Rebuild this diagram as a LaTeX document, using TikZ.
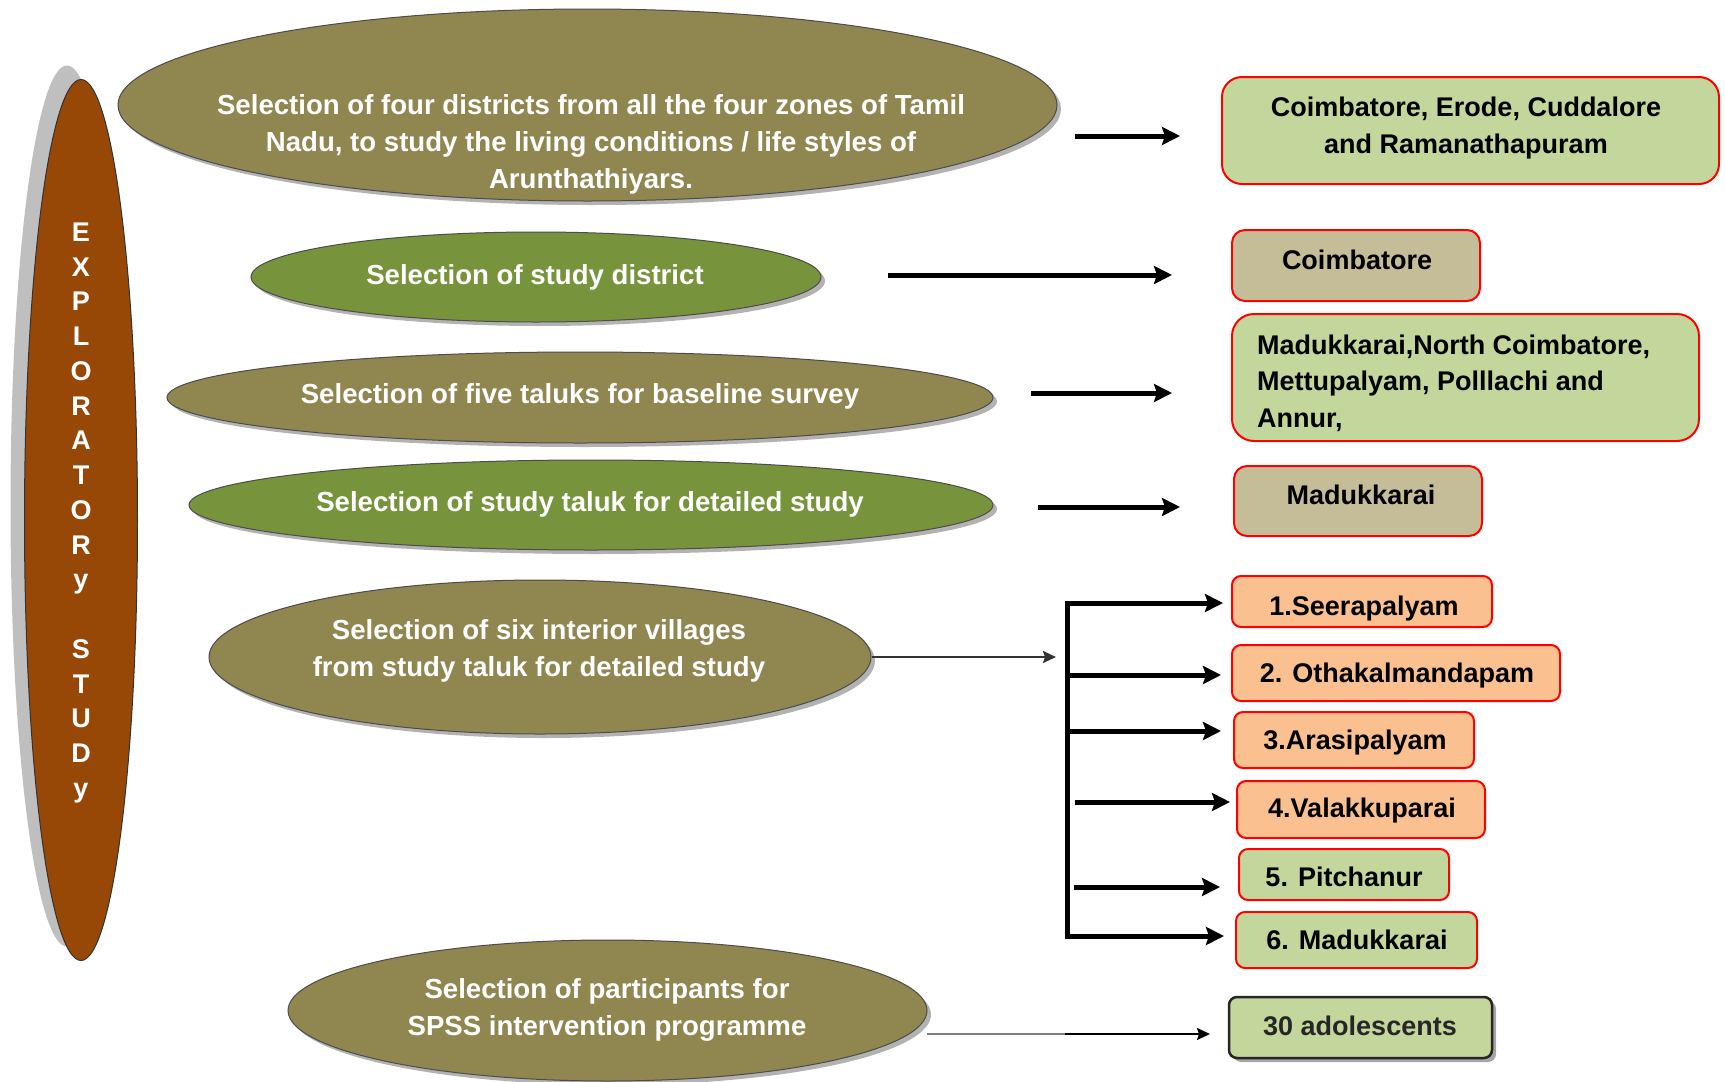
\documentclass[tikz,border=0pt]{standalone}
\usepackage{fontspec}
\setmainfont{Liberation Sans}
\usetikzlibrary{arrows.meta,shapes.geometric,shadows,calc}

\definecolor{olivefill}{RGB}{143,134,80}
\definecolor{greenfill}{RGB}{119,147,60}
\definecolor{brownfill}{RGB}{151,72,6}
\definecolor{boxgreen}{RGB}{195,214,155}
\definecolor{boxtan}{RGB}{196,189,151}
\definecolor{boxorange}{RGB}{250,192,144}
\definecolor{boxred}{RGB}{255,0,0}

\begin{document}
\begin{tikzpicture}[x=1pt,y=-1pt,
  oval/.style={ellipse, draw=black!70, line width=1pt, inner sep=0pt,
    drop shadow={shadow xshift=4pt, shadow yshift=-4pt, opacity=0.3, fill=black}},
  olive/.style={oval, fill=olivefill},
  leaf/.style={oval, fill=greenfill},
  ovaltext/.style={text=white, font=\bfseries\fontsize{27.6}{37}\selectfont,
    align=center, inner sep=0pt},
  ovalline/.style={ovaltext, text height=20pt, text depth=6pt},
  boxtext/.style={text=black, font=\bfseries\fontsize{27}{36.5}\selectfont, inner sep=0pt},
  boxline/.style={boxtext, text height=20pt, text depth=6pt},
  boxbase/.style={rectangle, draw=boxred, line width=2pt, inner sep=0pt},
  bigarrow/.style={line width=5pt, -{Stealth[length=18pt,width=18pt,inset=3pt]}},
  thinarrow/.style={line width=2pt, -{Stealth[length=13pt,width=12pt,inset=2pt]}},
]
\useasboundingbox (0,0) rectangle (1725,1082);
\fill[white] (0,0) rectangle (1725,1082);

% side band
\node[ellipse, fill=black!25, inner sep=0pt, minimum width=113pt, minimum height=881pt] (sideshade) at (67,506) {};
\node[ellipse, fill=brownfill, draw=black!80, line width=1pt, inner sep=0pt,
      minimum width=113pt, minimum height=881pt] (side) at (81,520) {};
\node[text=white, font=\bfseries\fontsize{27}{34.75}\selectfont, align=center, inner sep=0pt]
  (sidetext) at (81,513) {E\\X\\P\\L\\O\\R\\A\\T\\O\\R\\y\\[34.75pt]S\\T\\U\\D\\y};

% selection steps
\node[olive, minimum width=939pt, minimum height=192pt] (e1) at (587.5,105) {};
\node[leaf,  minimum width=570pt, minimum height=90pt]  (e2) at (536,277) {};
\node[olive, minimum width=826pt, minimum height=91pt]  (e3) at (580,397.5) {};
\node[leaf,  minimum width=804pt, minimum height=90pt]  (e4) at (591,505) {};
\node[olive, minimum width=662pt, minimum height=154pt] (e5) at (540,657) {};
\node[olive, minimum width=639pt, minimum height=141pt] (e6) at (607.5,1010.5) {};

\node[ovaltext] (e1t) at (591,144) {Selection of four districts from all the four zones of Tamil\\Nadu, to study the living conditions / life styles of\\Arunthathiyars.};
\node[ovalline] (e2t) at (535,277) {Selection of study district};
\node[ovalline] (e3t) at (580,396) {Selection of five taluks for baseline survey};
\node[ovalline] (e4t) at (590,504) {Selection of study taluk for detailed study};
\node[ovaltext] (e5t) at (539,651) {Selection of six interior villages\\from study taluk for detailed study};
\node[ovaltext] (e6t) at (607,1010) {Selection of participants for\\SPSS intervention programme};

% outcome boxes
\node[boxbase, fill=boxgreen, rounded corners=20pt, minimum width=497pt, minimum height=107pt] (bx1) at (1470.5,130.5) {};
\node[boxbase, fill=boxtan, rounded corners=13pt, minimum width=248pt, minimum height=71pt] (bx2) at (1356,265.5) {};
\node[boxbase, fill=boxgreen, rounded corners=22pt, minimum width=467pt, minimum height=127pt] (bx3) at (1465.5,377.5) {};
\node[boxbase, fill=boxtan, rounded corners=13pt, minimum width=248pt, minimum height=70pt] (bx4) at (1358,501) {};

\node[boxtext, align=center] (bx1t) at (1466,128) {Coimbatore, Erode, Cuddalore\\and Ramanathapuram};
\node[boxline] (bx2t) at (1357,262) {Coimbatore};
\node[boxtext, align=left, anchor=west] (bx3t) at (1257,383) {Madukkarai,North Coimbatore,\\Mettupalyam, Polllachi and\\Annur,};
\node[boxline] (bx4t) at (1361,497) {Madukkarai};

% villages
\node[boxbase, fill=boxorange, rounded corners=9pt, minimum width=260pt, minimum height=51pt] (vil1) at (1362,601.5) {};
\node[boxbase, fill=boxorange, rounded corners=9pt, minimum width=328pt, minimum height=56pt] (vil2) at (1396,673) {};
\node[boxbase, fill=boxorange, rounded corners=9pt, minimum width=240pt, minimum height=56pt] (vil3) at (1354,740) {};
\node[boxbase, fill=boxorange, rounded corners=9pt, minimum width=248pt, minimum height=57pt] (vil4) at (1361,809.5) {};
\node[boxbase, fill=boxgreen, rounded corners=9pt, minimum width=210pt, minimum height=51pt] (vil5) at (1344,874.5) {};
\node[boxbase, fill=boxgreen, rounded corners=9pt, minimum width=241pt, minimum height=56pt] (vil6) at (1356.5,940) {};
\node[rectangle, draw=black!85, line width=2.5pt, inner sep=0pt, fill=boxgreen, rounded corners=8pt,
      minimum width=263pt, minimum height=61pt,
      drop shadow={shadow xshift=4pt, shadow yshift=-4pt, opacity=0.35, fill=black}] (part) at (1360.5,1027.5) {};

\node[boxline] (vil1t) at (1364,608) {1.Seerapalyam};
\node[boxline] (vil2t) at (1397,675) {2. Othakalmandapam};
\node[boxline] (vil3t) at (1355,742) {3.Arasipalyam};
\node[boxline] (vil4t) at (1362,810) {4.Valakkuparai};
\node[boxline] (vil5t) at (1344,879) {5. Pitchanur};
\node[boxline] (vil6t) at (1357,942) {6. Madukkarai};
\node[boxline, text=black!85] (partt) at (1360,1028) {30 adolescents};

% connectors
\coordinate (t1) at (1075,136);  \coordinate (h1) at (1180,136);
\coordinate (t2) at (888,275);   \coordinate (h2) at (1172,275);
\coordinate (t3) at (1031,393);  \coordinate (h3) at (1172,393);
\coordinate (t4) at (1038,507);  \coordinate (h4) at (1180,507);
\draw[bigarrow] (t1) -- (h1);
\draw[bigarrow] (t2) -- (h2);
\draw[bigarrow] (t3) -- (h3);
\draw[bigarrow] (t4) -- (h4);

\coordinate (h5) at (1056,657);
\draw[thinarrow, draw=black!80, fill=black] (e5.east) -- (h5);

% village bracket
\coordinate (brt) at (1067,603);
\coordinate (brb) at (1067,936);
\draw[line width=5pt, line cap=rect] (brt) -- (brb);
\coordinate (v2) at (1067,675);
\coordinate (v3) at (1067,731);
\coordinate (v4) at (1075,802);
\coordinate (v5) at (1074,887);
\coordinate (hv1) at (1223,603);
\coordinate (hv2) at (1221,675);
\coordinate (hv3) at (1221,731);
\coordinate (hv4) at (1230,802);
\coordinate (hv5) at (1220,887);
\coordinate (hv6) at (1224,936);
\draw[bigarrow] (brt) -- (hv1);
\draw[bigarrow] (v2) -- (hv2);
\draw[bigarrow] (v3) -- (hv3);
\draw[bigarrow] (v4) -- (hv4);
\draw[bigarrow] (v5) -- (hv5);
\draw[bigarrow] (brb) -- (hv6);

% participants connector
\coordinate (p1) at (927,1034);
\coordinate (p2) at (1065,1034);
\coordinate (p3) at (1210,1034);
\draw[line width=2pt, draw=black!50] (p1) -- (p2);
\draw[thinarrow] (p2) -- (p3);
\end{tikzpicture}
\end{document}
